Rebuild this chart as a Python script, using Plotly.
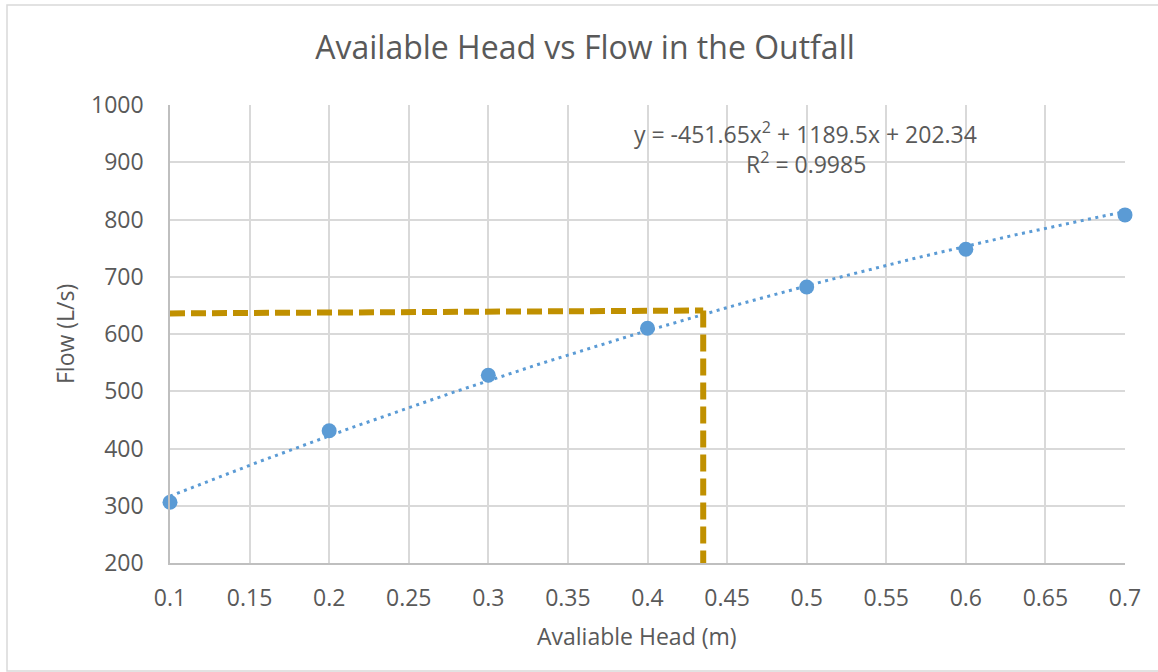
import numpy as np
import plotly.graph_objects as go

# Measured head / flow pairs
head_m = [0.1, 0.2, 0.3, 0.4, 0.5, 0.6, 0.7]
flow_lps = [306, 431, 528, 610, 682, 748, 808]

# Polynomial trendline coefficients (a x^2 + b x + c) and fit quality
trend_coeffs = [-451.65, 1189.5, 202.34]
r_squared = 0.9985

# Design read-off lines (head at the required flow)
readoff_h_x = [0.1, 0.435]
readoff_h_y = [636, 641]
readoff_v_x = [0.435, 0.435]
readoff_v_y = [641, 197]

x_ticks = [0.1, 0.15, 0.2, 0.25, 0.3, 0.35, 0.4, 0.45, 0.5, 0.55, 0.6, 0.65, 0.7]
y_ticks = [200, 300, 400, 500, 600, 700, 800, 900, 1000]

W, H = 1158, 672
L, R, T, B = 170, 33, 105, 109
pw, ph = W - L - R, H - T - B

def px(x):
    return (x - L) / pw

def py(y):
    return (H - B - y) / ph

FONT = "Open Sans"
GREY = "#595959"
BLUE = "#5B9BD5"
GOLD = "#C09000"

trend_x = np.linspace(head_m[0], head_m[-1], 200)
trend_y = np.polyval(trend_coeffs, trend_x)

fig = go.Figure()

fig.add_trace(go.Scatter(
    x=trend_x, y=trend_y, mode="lines",
    line=dict(color=BLUE, width=3, dash="3px,4.5px"), showlegend=False,
))
fig.add_trace(go.Scatter(
    x=head_m, y=flow_lps, mode="markers",
    marker=dict(size=15, color=BLUE), showlegend=False,
    cliponaxis=False,
))
fig.add_trace(go.Scatter(
    x=readoff_h_x, y=readoff_h_y, mode="lines",
    line=dict(color=GOLD, width=6, dash="15px,6px"), showlegend=False,
    cliponaxis=False,
))
fig.add_trace(go.Scatter(
    x=readoff_v_x, y=readoff_v_y, mode="lines",
    line=dict(color=GOLD, width=6, dash="17px,7px"), showlegend=False,
    cliponaxis=False,
))

fig.update_xaxes(
    range=[0.1, 0.7], tickvals=x_ticks, ticktext=[f"{v:g}" for v in x_ticks],
    showgrid=True, gridcolor="#d9d9d9", gridwidth=1.5,
    showline=True, linecolor="#bfbfbf", linewidth=1.5,
    zeroline=False, ticks="", ticklabelstandoff=14,
    tickfont=dict(family=FONT, size=23, color=GREY),
)
fig.update_yaxes(
    range=[200, 1000], tickvals=y_ticks,
    showgrid=True, gridcolor="#d9d9d9", gridwidth=1.5,
    showline=True, linecolor="#bfbfbf", linewidth=1.5,
    zeroline=False, ticks="", ticklabelstandoff=20,
    tickfont=dict(family=FONT, size=23, color=GREY),
)

fig.add_shape(
    type="rect", xref="paper", yref="paper",
    x0=px(7), x1=px(1162), y0=py(671), y1=py(5),
    line=dict(color="#d9d9d9", width=1.5), layer="below",
)

label_font = dict(family=FONT, size=23, color=GREY)
fig.add_annotation(
    text="y = -451.65x<sup>2</sup> + 1189.5x + 202.34",
    xref="paper", yref="paper", x=px(805), y=py(133),
    xanchor="center", yanchor="middle",
    showarrow=False, font=label_font,
)
fig.add_annotation(
    text=f"R<sup>2</sup> = {r_squared}",
    xref="paper", yref="paper", x=px(806), y=py(163),
    xanchor="center", yanchor="middle",
    showarrow=False, font=label_font,
)
fig.add_annotation(
    text="Flow (L/s)", textangle=-90,
    xref="paper", yref="paper", x=px(65), y=py(334),
    xanchor="center", yanchor="middle",
    showarrow=False, font=label_font,
)
fig.add_annotation(
    text="Avaliable Head (m)",
    xref="paper", yref="paper", x=px(637), y=py(636),
    xanchor="center", yanchor="middle",
    showarrow=False, font=label_font,
)

fig.update_layout(
    width=W, height=H,
    margin=dict(l=L, r=R, t=T, b=B),
    paper_bgcolor="white", plot_bgcolor="white",
    title=dict(
        text="Available Head vs Flow in the Outfall",
        x=585 / W, xanchor="center", y=1 - 48 / H, yanchor="middle",
        font=dict(family=FONT, size=32, color=GREY),
    ),
)

fig.write_html("out.html")
